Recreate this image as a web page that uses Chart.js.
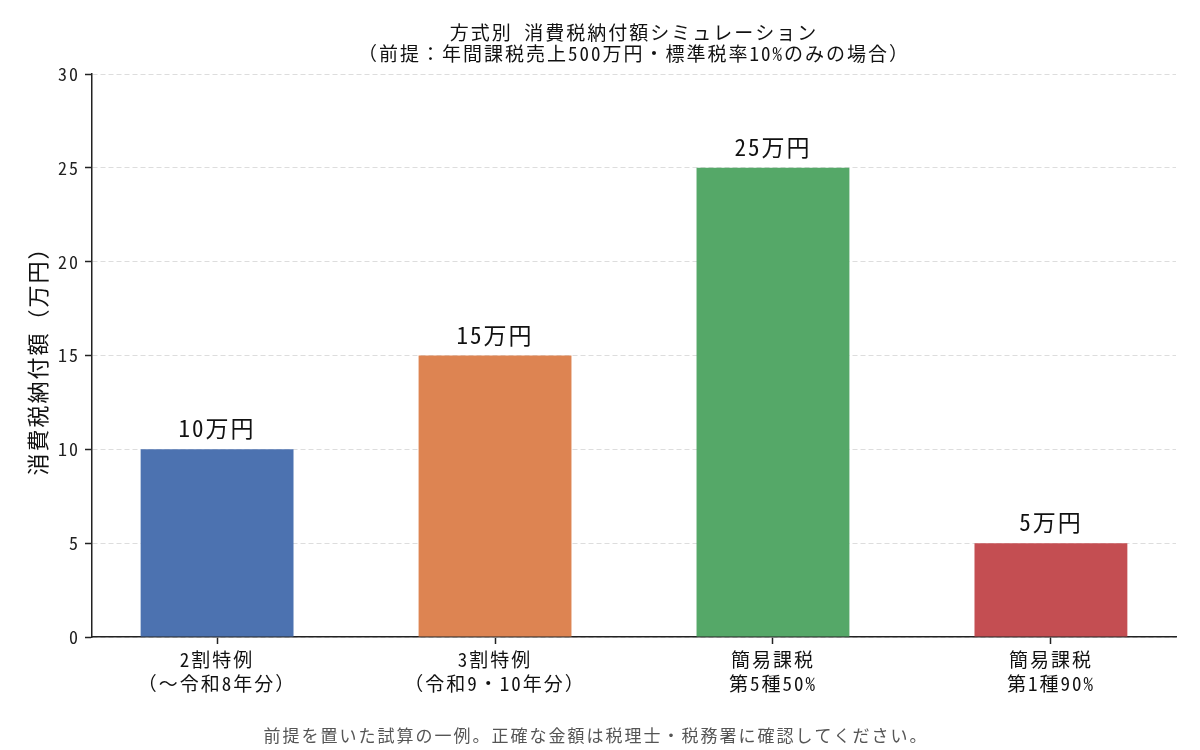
<!DOCTYPE html>
<html lang="ja">
<head>
<meta charset="utf-8">
<title>方式別 消費税納付額シミュレーション</title>
<script src="https://cdn.jsdelivr.net/npm/chart.js@4/dist/chart.umd.min.js"></script>
<style>
  html, body { margin: 0; padding: 0; background: #fff; }
  #wrap { width: 1200px; height: 750px; position: relative; }
</style>
</head>
<body>
<div id="wrap"><canvas id="grafico"></canvas></div>
<script>
// データ
const categorias = ['2割特例\n（〜令和8年分）', '3割特例\n（令和9・10年分）', '簡易課税\n第5種50%', '簡易課税\n第1種90%'];
const valores = [10, 15, 25, 5];
const cores = ['#4C72B0', '#DD8452', '#55A868', '#C44E52'];
const yTicks = [0, 5, 10, 15, 20, 25, 30];
const titulo = ['方式別 消費税納付額シミュレーション', '（前提：年間課税売上500万円・標準税率10%のみの場合）'];
const nota = '前提を置いた試算の一例。正確な金額は税理士・税務署に確認してください。';

const FONTE = '"Noto Sans Mono CJK JP", "Noto Sans CJK JP", monospace';
Chart.defaults.font.family = FONTE;
Chart.defaults.color = '#222';

// espaçamento entre letras (a fonte original é mais larga)
const espaco = {
  id: 'espaco',
  beforeUpdate(chart) { chart.ctx.letterSpacing = '2px'; },
  beforeDraw(chart) { chart.ctx.letterSpacing = '2px'; }
};

// rótulos em cima das barras + título + nota
const extras = {
  id: 'extras',
  afterDatasetsDraw(chart) {
    const ctx = chart.ctx;
    const meta = chart.getDatasetMeta(0);
    ctx.save();
    ctx.fillStyle = '#111';
    ctx.font = '23px ' + FONTE;
    ctx.textAlign = 'center';
    ctx.textBaseline = 'alphabetic';
    meta.data.forEach((bar, i) => {
      ctx.fillText(valores[i] + '万円', bar.x, bar.y - 12);
    });
    const area = chart.chartArea;
    const cx = (area.left + area.right) / 2;
    ctx.font = '19px ' + FONTE;
    ctx.textBaseline = 'middle';
    ctx.fillText(titulo[0], cx, 33);
    ctx.fillText(titulo[1], cx, 54);
    ctx.fillStyle = '#555';
    ctx.font = '17px ' + FONTE;
    ctx.fillText(nota, 596, 736);
    ctx.restore();
  }
};

const ctx = document.getElementById('grafico').getContext('2d');
new Chart(ctx, {
  type: 'bar',
  data: {
    datasets: [{
      data: valores.map((v, i) => ({ x: i, y: v })),
      backgroundColor: cores,
      borderWidth: 0,
      categoryPercentage: 1,
      barPercentage: 0.55
    }]
  },
  options: {
    responsive: true,
    maintainAspectRatio: false,
    animation: false,
    layout: { padding: { top: 74, right: 24, bottom: 0, left: 0 } },
    plugins: {
      legend: { display: false },
      tooltip: { enabled: false }
    },
    scales: {
      x: {
        type: 'linear',
        offset: false,
        min: -0.45,
        max: 3.45,
        afterBuildTicks: axis => { axis.ticks = categorias.map((c, i) => ({ value: i })); },
        afterFit: axis => { axis.height = 113; },
        ticks: {
          font: { size: 19, lineHeight: 1.25 },
          color: '#111',
          padding: 4,
          maxRotation: 0,
          autoSkip: false,
          callback: v => categorias[v] ? categorias[v].split('\n') : ''
        },
        grid: {
          offset: false,
          drawOnChartArea: false,
          tickLength: 7,
          tickColor: '#222',
          tickWidth: 1.5
        },
        border: { color: '#222', width: 1.5 }
      },
      y: {
        min: 0,
        max: 30,
        afterBuildTicks: axis => { axis.ticks = yTicks.map(v => ({ value: v })); },
        afterFit: axis => { axis.width = 92; },
        ticks: {
          font: { size: 18 },
          color: '#222',
          padding: 5
        },
        grid: {
          color: '#dddddd',
          lineWidth: 1,
          tickLength: 7,
          tickColor: '#222',
          tickWidth: 1.5,
          tickBorderDash: []
        },
        border: { color: '#222', width: 1.5, dash: [5, 3] },
        title: {
          display: true,
          text: '消費税納付額（万円）',
          font: { size: 22 },
          color: '#111',
          padding: { top: 24, bottom: 0 }
        }
      }
    }
  },
  plugins: [espaco, extras]
});
</script>
</body>
</html>
